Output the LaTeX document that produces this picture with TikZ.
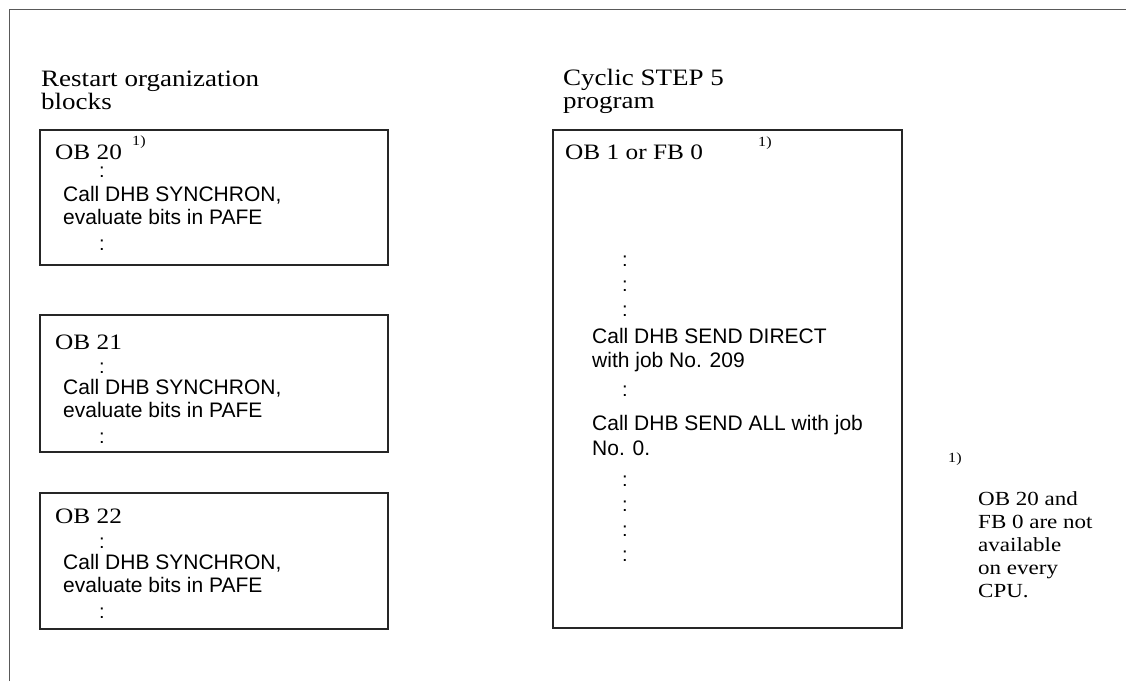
\documentclass[tikz,border=0pt]{standalone}
\usepackage{fontspec}
\setmainfont{Liberation Serif}[FakeStretch=1.15]
\setsansfont{Liberation Sans}
\usepackage{tikz}

\begin{document}
\begin{tikzpicture}[
    x=1pt, y=-1pt,
    box/.style={line width=1.6pt, black!85},
    head/.style={anchor=base west, inner sep=0pt, align=left,
      font=\fontsize{23.5}{23}\selectfont},
    oblab/.style={anchor=base west, inner sep=0pt, font=\fontsize{22}{24}\selectfont},
    fnmark/.style={anchor=base west, inner sep=0pt, font=\fontsize{14}{16}\selectfont},
    call/.style={anchor=base west, inner sep=0pt, align=left,
      font=\sffamily\fontsize{21}{23}\selectfont},
    dots/.style={inner sep=0pt, font=\sffamily\fontsize{20}{22}\selectfont},
  ]
  \useasboundingbox (0,0) rectangle (1126,681);
  \draw[line width=1pt, black!65] (9,681) -- (9,9) -- (1126,9);

  %% ---- restart organization blocks (base = last line) -----------------
  \node[head] (resthead) at (41,109) {Restart organization\\blocks};

  \draw[box] (40,130) rectangle (388,265);
  \node[oblab]  (ob20)    at (55,159)  {OB 20};
  \node[fnmark] (ob20fn)  at (132,145) {1)};
  \node[dots]   (ob20d1)  at (102,172) {:};
  \node[call]   (ob20sy)  at (63,224)  {Call DHB SYNCHRON,\\evaluate bits in PAFE};
  \node[dots]   (ob20d2)  at (102,245) {:};

  \draw[box] (40,315) rectangle (388,452);
  \node[oblab]  (ob21)    at (55,349)  {OB 21};
  \node[dots]   (ob21d1)  at (102,368) {:};
  \node[call]   (ob21sy)  at (63,417)  {Call DHB SYNCHRON,\\evaluate bits in PAFE};
  \node[dots]   (ob21d2)  at (102,438) {:};

  \draw[box] (40,493) rectangle (388,629);
  \node[oblab]  (ob22)    at (55,523)  {OB 22};
  \node[dots]   (ob22d1)  at (102,543) {:};
  \node[call]   (ob22sy)  at (63,592)  {Call DHB SYNCHRON,\\evaluate bits in PAFE};
  \node[dots]   (ob22d2)  at (102,613) {:};

  %% ---- cyclic program ------------------------------------------------
  \node[head] (cychead) at (563,108) {Cyclic STEP 5\\program};

  \draw[box] (553,130) rectangle (902,628);
  \node[oblab]  (ob1)   at (565,159) {OB 1 or FB 0};
  \node[fnmark] (ob1fn) at (758,146) {1)};
  \foreach \y [count=\i] in {261,286,311}
    \node[dots] (topd\i) at (625,\y) {:};
  \node[call, font=\sffamily\fontsize{21}{24}\selectfont]
    (direct) at (592,367) {Call DHB SEND DIRECT\\with job No. 209};
  \node[dots] (midd) at (625,391) {:};
  \node[call, font=\sffamily\fontsize{21}{25}\selectfont]
    (sendall) at (592,455) {Call DHB SEND ALL with job\\No. 0.};
  \foreach \y [count=\i] in {481,506,531,556}
    \node[dots] (botd\i) at (625,\y) {:};

  %% ---- footnote ------------------------------------------------------
  \node[fnmark] (fnmark) at (948,462) {1)};
  \node[anchor=base west, inner sep=0pt, align=left,
    font=\fontsize{20}{23}\selectfont]
    (fntext) at (978,597) {OB 20 and\\FB 0 are not\\available\\on every\\CPU.};
\end{tikzpicture}
\end{document}
